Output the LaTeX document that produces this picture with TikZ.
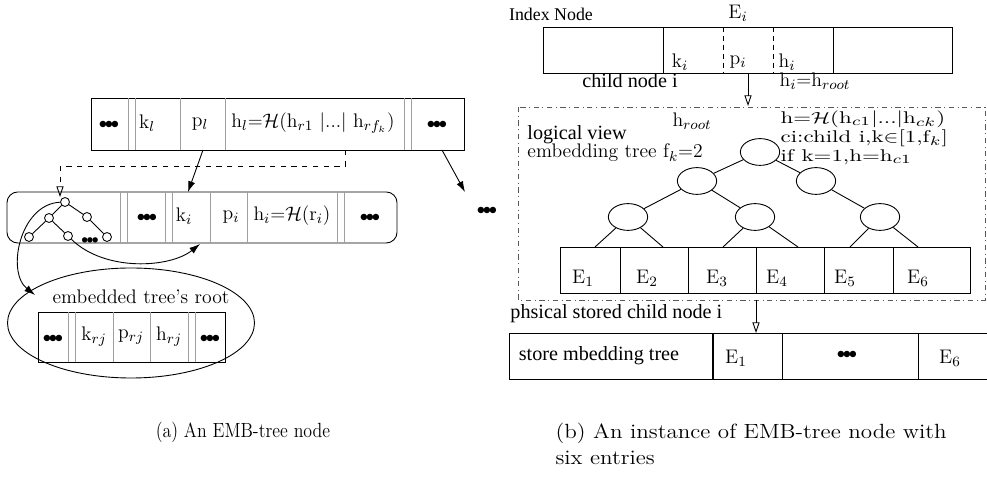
\documentclass[tikz,border=0pt]{standalone}
\usepackage{amsmath}
\usepackage{amssymb}
\usepackage{fontspec}
\usetikzlibrary{arrows.meta,shapes.geometric}
\newfontfamily\tnr{Liberation Serif}
\newcommand{\bdots}{$\mathord{\bullet}\mkern-2.5mu\mathord{\bullet}\mkern-2.5mu\mathord{\bullet}$}

\tikzset{
  cell/.style={draw=gray!75, line width=0.5pt},
  lbl/.style={inner sep=0pt, font=\fontsize{11}{13}\selectfont},
  sml/.style={inner sep=0pt, font=\fontsize{11}{13}\selectfont},
  tms/.style={inner sep=0pt, font=\fontsize{11.3}{13}\selectfont\tnr},
  dotsym/.style={inner sep=0pt, font=\fontsize{9.5}{11}\selectfont},
  leaf/.style={draw, circle, minimum size=5pt, inner sep=0pt},
  bub/.style={draw, ellipse, minimum width=22pt, minimum height=15pt, inner sep=0pt},
  blk/.style={-{Latex[length=6pt,width=4pt]}},
  opn/.style={-{Triangle[open,length=6pt,width=4pt]}},
  capt/.style={inner sep=0pt, xscale=0.87, font=\fontsize{11.5}{14.6}\selectfont},
  rule/.style={inner sep=0pt, anchor=west, xscale=1.35, font=\fontsize{9.5}{11}\selectfont},
}

\begin{document}
\begin{tikzpicture}[x=0.56pt,y=-0.56pt, line width=0.5pt]
  \useasboundingbox (0,0) rectangle (987,480);

  % (a) upper node
  \draw (91,98) rectangle (464,150);
  \foreach \x in {128,135,180,225,404,411} \draw[cell] (\x,98) -- (\x,150);
  \node[dotsym] (ldl) at (109,125) {\bdots};
  \node[lbl] (kl) at (147,123) {k$_l$};
  \node[lbl] (pl) at (200,124) {p$_l$};
  \node[lbl] (hl) at (313,123) {h$_l$=$\mathcal{H}$(h$_{r1}$ |...| h$_{rf_k}$)};
  \node[dotsym] (ldr) at (437,125) {\bdots};
  \coordinate (plb) at (203,150);
  \coordinate (hlb) at (345,150);
  \coordinate (drb) at (442,150);

  % (a) middle node with its embedded tree
  \draw[rounded corners=6pt] (7,192) rectangle (397,243);
  \foreach \x in {120,127,165,172,210,247,337,344} \draw[cell] (\x,192) -- (\x,243);
  \node[dotsym] (mdl) at (147,218) {\bdots};
  \node[lbl] (ki) at (184,216) {k$_i$};
  \node[lbl] (pi) at (231,217) {p$_i$};
  \node[lbl] (hi) at (292,216) {h$_i$=$\mathcal{H}$(r$_i$)};
  \node[dotsym] (mdr) at (370,218) {\bdots};
  \coordinate (mtop) at (188,192);
  \coordinate (kpb) at (200,244);

  \node[leaf] (s0) at (65,202) {};
  \node[leaf] (s1) at (49,218) {};
  \node[leaf] (s2) at (87,217) {};
  \node[leaf] (s3) at (29,237) {};
  \node[leaf] (s4) at (68,236) {};
  \node[leaf] (s5) at (107,237) {};
  \node[inner sep=0pt, font=\fontsize{7}{9}\selectfont] (sd) at (90,241) {\bdots};
  \draw (s0) -- (s1) (s0) -- (s2) (s1) -- (s3) (s1) -- (s4) (s2) -- (s5);

  \coordinate (dtop) at (60,166);
  \coordinate (s0in) at (60,197);
  \draw[dashed] (hlb) -- (345,166) -- (dtop);
  \draw[dashed, opn] (dtop) -- (s0in);
  \draw[blk] (plb) -- (mtop);
  \coordinate (far) at (465,192);
  \draw[blk] (drb) -- (far);
  \node[dotsym] (fardots) at (487,211) {\bdots};

  \draw[blk] (s4) .. controls (105,272) and (170,268) .. (kpb);

  % (a) root of the embedded tree
  \node[draw, ellipse, inner sep=0pt, minimum width=138.3pt, minimum height=61.6pt] (oval) at (131,323) {};
  \node[lbl] (rootlbl) at (141,297) {embedded tree's root};
  \draw (38,312) rectangle (225,362);
  \foreach \x in {68,75,113,150,188,195} \draw[cell] (\x,312) -- (\x,362);
  \node[dotsym] (edl) at (53,339) {\bdots};
  \node[lbl] (krj) at (94,337) {k$_{rj}$};
  \node[lbl] (prj) at (131,337) {p$_{rj}$};
  \node[lbl] (hrj) at (169,337) {h$_{rj}$};
  \node[dotsym] (edr) at (210,339) {\bdots};
  \coordinate (rootin) at (35,295);
  \draw[blk] (s0) .. controls (20,204) and (6,272) .. (rootin);

  % (b) index node
  \node[inner sep=0pt, font=\fontsize{10}{12}\selectfont\tnr] (idx) at (551,14) {Index Node};
  \node[sml] (ei) at (738,13) {E$_i$};
  \draw (543,27) rectangle (952,73);
  \draw (663,27) -- (663,73) (833,27) -- (833,73);
  \draw[densely dashed] (723,27) -- (723,73) (773,27) -- (773,73);
  \node[sml] (kb) at (680,62) {k$_i$};
  \node[sml] (pb) at (738,62) {p$_i$};
  \node[sml] (hb) at (787,62) {h$_i$};
  \coordinate (pbot) at (748,73);
  \coordinate (lvtop) at (748,106);
  \draw[opn] (pbot) -- (lvtop);
  \node[tms] (child) at (630,81) {child node i};
  \node[sml] (hroot) at (815,81) {h$_i$=h$_{root}$};

  % (b) logical view
  \draw[dash dot, draw=gray!70!black] (518,107) rectangle (985,300);
  \node[sml] (hrt) at (692,121) {h$_{root}$};
  \node[tms, anchor=west] (lv) at (527,135) {logical view};
  \node[sml, anchor=west] (et) at (527,153) {embedding tree f$_k$=2};
  \node[rule] (f1) at (780,119) {h=$\mathcal{H}$(h$_{c1}$|...|h$_{ck}$)};
  \node[rule] (f2) at (780,138) {ci:child i,k$\in$[1,f$_k$]};
  \node[rule] (f3) at (780,157) {if k=1,h=h$_{c1}$};

  \node[bub] (rt) at (760,152) {};
  \node[bub] (a1) at (697,181) {};
  \node[bub] (a2) at (816,181) {};
  \node[bub] (b1) at (628,217) {};
  \node[bub] (b2) at (755,217) {};
  \node[bub] (b3) at (880,217) {};
  \draw (rt) -- (a1) (rt) -- (a2) (a1) -- (b1) (a1) -- (b2) (a2) -- (b3);

  \draw (560,247) rectangle (970,293);
  \foreach \x in {620,688,756,824,893} \draw (\x,247) -- (\x,293);
  \foreach \x/\n in {583/1,647/2,717/3,777/4,845/5,918/6}
    \node[sml] (e\n) at (\x,278) {E$_\n$};
  \coordinate (t1) at (595,247);
  \coordinate (t2) at (663,247);
  \coordinate (t3) at (723,247);
  \coordinate (t4) at (798,247);
  \coordinate (t5) at (850,247);
  \coordinate (t6) at (918,247);
  \draw (b1) -- (t1) (b1) -- (t2) (b2) -- (t3) (b2) -- (t4) (b3) -- (t5) (b3) -- (t6);

  % (b) physical child node
  \coordinate (lvbot) at (756,300);
  \coordinate (phtop) at (756,333);
  \draw[opn] (lvbot) -- (phtop);
  \node[tms, anchor=west] (phs) at (510,314) {phsical stored child node i};
  \draw (509,333) -- (987,333) (509,379) -- (987,379) (509,333) -- (509,379);
  \draw[line width=0.9pt] (713,333) -- (713,379);
  \draw (782,333) -- (782,379) (918,333) -- (918,379);
  \node[tms] (st) at (599,356) {store mbedding tree};
  \node[sml] (pe1) at (736,358) {E$_1$};
  \node[dotsym] (pdd) at (847,355) {\bdots};
  \node[sml] (pe6) at (950,358) {E$_6$};

  % captions
  \node[capt] (capa) at (243,432) {(a) An EMB-tree node};
  \node[capt, xscale=1.29, anchor=north west, align=left] (capb) at (555,423)
    {(b) An instance of EMB-tree node with\\ six entries};
\end{tikzpicture}
\end{document}
